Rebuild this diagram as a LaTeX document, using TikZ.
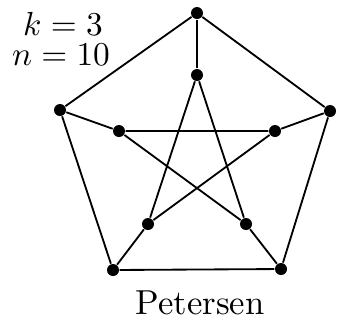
\documentclass[tikz,border=0pt]{standalone}
\usepackage{amsmath}
\usepackage{tikz}
\usetikzlibrary{positioning}

\begin{document}
\begin{tikzpicture}[x=0.3pt, y=-0.3pt, font=\fontsize{10.4}{12}\selectfont,
	vtx/.style={circle, fill=black, inner sep=0pt, minimum size=3.6pt},
	edge/.style={line width=0.55pt}]
				\useasboundingbox (0, 0) rectangle (339, 326);
				% outer pentagon
				\node[vtx] (o1) at (197, 13) {};
				\node[vtx] (o2) at (330, 111) {};
				\node[vtx] (o3) at (281, 269) {};
				\node[vtx] (o4) at (113, 270) {};
				\node[vtx] (o5) at (60, 110) {};
				% inner star
				\node[vtx] (i1) at (197, 75) {};
				\node[vtx] (i2) at (275, 131) {};
				\node[vtx] (i3) at (246, 224) {};
				\node[vtx] (i4) at (148, 224) {};
				\node[vtx] (i5) at (119, 131) {};
				
				\draw[edge] (o1) -- (o2) -- (o3) -- (o4) -- (o5) -- (o1);
				\draw[edge] (i1) -- (i3) -- (i5) -- (i2) -- (i4) -- (i1);
				\draw[edge] (o1) -- (i1);
				\draw[edge] (o2) -- (i2);
				\draw[edge] (o3) -- (i3);
				\draw[edge] (o4) -- (i4);
				\draw[edge] (o5) -- (i5);
				
				\node (k) at (63, 24) {$k=3$};
				\node (n) at (61, 55) {$n=10$};
				\node (name) at (200, 303) {Petersen};
			\end{tikzpicture}
\end{document}
